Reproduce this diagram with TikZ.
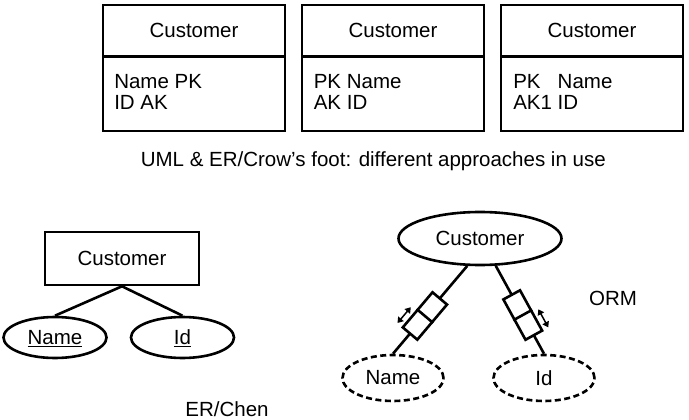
\documentclass[tikz,border=0pt]{standalone}
\usepackage{fontspec}
\setmainfont{Liberation Sans}
\usetikzlibrary{positioning, shapes.geometric, arrows.meta, calc}

\begin{document}
\begin{tikzpicture}[x=1pt, y=-1pt, line width=2.6pt, font=\fontsize{20.5}{21}\selectfont,
    head/.style={draw, minimum width=182pt, minimum height=51.5pt, inner sep=0pt, outer sep=0pt},
    body/.style={draw, minimum width=182pt, minimum height=74.5pt, inner sep=0pt, outer sep=0pt},
    keys/.style={anchor=base west, inner sep=0pt, align=left},
    attr/.style={draw, ellipse, minimum width=103pt, minimum height=41pt, inner sep=0pt, text depth=0pt},
    objtype/.style={draw, ellipse, minimum width=163pt, minimum height=53pt, inner sep=0pt},
    valtype/.style={draw, ellipse, dash pattern=on 6pt off 3.5pt, minimum width=101pt, minimum height=46pt, inner sep=0pt},
    role/.style={draw, fill=white, sloped, minimum width=46pt, minimum height=19pt, inner sep=0pt},
    uniq/.style={{Triangle[length=5.5pt,width=7pt]}-{Triangle[length=5.5pt,width=7pt]}, line width=1.5pt}]
    \useasboundingbox (0,0) rectangle (689,420);
    \node[head] (h1) at (194,30.75) {Customer};
    \node[body, below=0pt of h1] (b1) {};
    \node[keys] (k1) at (113,110) {Name PK\\ID AK};
    \node[head] (h2) at (393,30.75) {Customer};
    \node[body, below=0pt of h2] (b2) {};
    \node[keys] (k2) at (312.5,110) {PK Name\\AK ID};
    \node[head] (h3) at (592,30.75) {Customer};
    \node[body, below=0pt of h3] (b3) {};
    \node[keys] (k3) at (512,110) {PK\phantom{1} Name\\AK1 ID};
    \node[anchor=base] (crow) at (373.3,166.7) {UML \& ER/Crow’s foot: different approaches in use};
    \node[draw, minimum width=154pt, minimum height=53pt] (chen) at (122,258.5) {Customer};
    \node[attr] (cname) at (55,337.5) {\underline{Name}};
    \node[attr] (cid) at (182.5,337.5) {\underline{Id}};
    \draw (chen.south) -- (cname.north);
    \draw (chen.south) -- (cid.north);
    \node[anchor=base] (chenlbl) at (227,416.5) {ER/Chen};
    \node[objtype] (ocust) at (480,238.5) {Customer};
    \node[valtype] (oname) at (393,378) {Name};
    \node[valtype] (oid) at (544,378) {Id};
    \draw (ocust.245) -- node[role, pos=0.57] (lrole) {} (oname.north);
    \draw (ocust.300) -- node[role, pos=0.56] (rrole) {} (oid.north);
    \draw (lrole.north) -- (lrole.south);
    \draw (rrole.north) -- (rrole.south);
    \coordinate (la) at ($(lrole.south)!1.26!(lrole.north)$);
    \coordinate (lb) at ($(lrole.south west)!1.26!(lrole.north west)$);
    \draw[uniq] ($(la)!0.1!(lb)$) -- ($(la)!0.95!(lb)$);
    \coordinate (ra) at ($(rrole.south)!1.26!(rrole.north)$);
    \coordinate (rb) at ($(rrole.south east)!1.26!(rrole.north east)$);
    \draw[uniq] ($(ra)!0.1!(rb)$) -- ($(ra)!0.95!(rb)$);
    \node (ormlbl) at (613,298.5) {ORM};
\end{tikzpicture}
\end{document}
